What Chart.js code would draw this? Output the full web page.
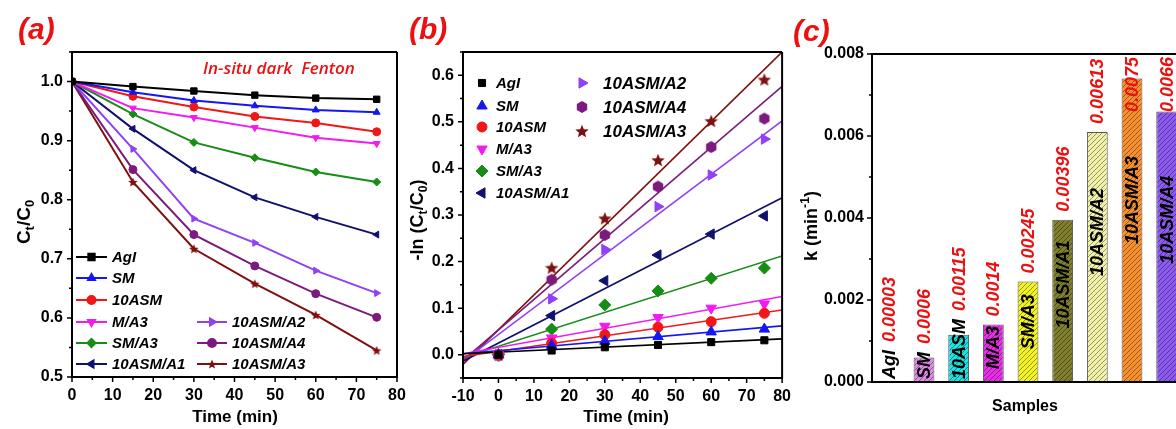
<!DOCTYPE html>
<html>
<head>
<meta charset="utf-8">
<script src="https://cdn.jsdelivr.net/npm/chart.js@4.4.0/dist/chart.umd.min.js"></script>
<style>
  html, body { margin: 0; padding: 0; background: #fff; width: 1176px; height: 429px; overflow: hidden; position: relative; }
  canvas { position: absolute; top: 0; }
  #chartA { left: 0; }
  #chartB { left: 400px; }
  #chartC { left: 790px; }
</style>
</head>
<body>
<canvas id="chartA" width="420" height="429"></canvas>
<canvas id="chartB" width="400" height="429"></canvas>
<canvas id="chartC" width="400" height="429"></canvas>
<script>
// ---- data ----
var times = [0, 15, 30, 45, 60, 75];
var seriesNames = ['AgI', 'SM', '10ASM', 'M/A3', 'SM/A3', '10ASM/A1', '10ASM/A2', '10ASM/A4', '10ASM/A3'];

// (a) Ct/C0 vs time
var ratioAgI   = [1.0, 0.9915, 0.984, 0.977, 0.972, 0.970];
var ratioSM    = [1.0, 0.982, 0.968, 0.959, 0.952, 0.948];
var ratio10ASM = [1.0, 0.975, 0.957, 0.941, 0.930, 0.915];
var ratioMA3   = [1.0, 0.955, 0.939, 0.922, 0.905, 0.895];
var ratioSMA3  = [1.0, 0.945, 0.897, 0.871, 0.847, 0.830];
var ratioA1    = [1.0, 0.920, 0.850, 0.804, 0.771, 0.741];
var ratioA2    = [1.0, 0.886, 0.768, 0.727, 0.680, 0.642];
var ratioA4    = [1.0, 0.851, 0.741, 0.688, 0.641, 0.601];
var ratioA3    = [1.0, 0.830, 0.717, 0.658, 0.605, 0.545];

// (b) -ln(Ct/C0) vs time
var lnAgI   = [0, 0.009, 0.016, 0.021, 0.027, 0.031];
var lnSM    = [0, 0.020, 0.029, 0.039, 0.049, 0.055];
var ln10ASM = [0, 0.025, 0.043, 0.059, 0.071, 0.089];
var lnMA3   = [0, 0.036, 0.061, 0.080, 0.100, 0.109];
var lnSMA3  = [0, 0.055, 0.107, 0.137, 0.164, 0.186];
var lnA1    = [0, 0.084, 0.159, 0.214, 0.259, 0.298];
var lnA2    = [0, 0.120, 0.226, 0.318, 0.386, 0.463];
var lnA4    = [-0.002, 0.161, 0.257, 0.361, 0.446, 0.507];
var lnA3    = [0, 0.187, 0.293, 0.418, 0.502, 0.591];

// (b) fitted lines, value read at each end of the axis
var fitX     = [-10, 80];
var fitAgI   = [0.002, 0.034];
var fitSM    = [0.002, 0.062];
var fit10ASM = [-0.004, 0.096];
var fitMA3   = [0.002, 0.125];
var fitSMA3  = [-0.006, 0.212];
var fitA1    = [-0.014, 0.337];
var fitA2    = [-0.014, 0.502];
var fitA4    = [-0.012, 0.576];
var fitA3    = [-0.021, 0.650];

// (c) rate constants
var barLabels = ['AgI', 'SM', '10ASM', 'M/A3', 'SM/A3', '10ASM/A1', '10ASM/A2', '10ASM/A3', '10ASM/A4'];
var kValues   = [0.00003, 0.0006, 0.00115, 0.0014, 0.00245, 0.00396, 0.0061, 0.0074, 0.0066];
var kText     = ['0.00003', '0.0006', '0.00115', '0.0014', '0.00245', '0.00396', '0.00613', '0.0075', '0.0066'];

var ratioSeries = [ratioAgI, ratioSM, ratio10ASM, ratioMA3, ratioSMA3, ratioA1, ratioA2, ratioA4, ratioA3];
var lnSeries = [lnAgI, lnSM, ln10ASM, lnMA3, lnSMA3, lnA1, lnA2, lnA4, lnA3];
var fitSeries = [fitAgI, fitSM, fit10ASM, fitMA3, fitSMA3, fitA1, fitA2, fitA4, fitA3];

// ---- styles ----
var FONT = '"Liberation Sans", Arial, sans-serif';
var RED = '#ec1111';
var seriesColors = ['#000000', '#1616f2', '#f21616', '#f21af2', '#178c17', '#10106e', '#9040f5', '#7d1a7d', '#7d1010'];
var rotations = [0, 0, 0, 180, 0, -90, 90, 0, 0];
var barColors = ['#33cc33', '#e08ae8', '#1ee0e0', '#e62ee6', '#f2f224', '#7f7f2e', '#f0f0a6', '#f89030', '#8c5af0'];

function makeStar(r, color) {
  var c = document.createElement('canvas');
  var s = Math.ceil(r * 2 + 2);
  c.width = s; c.height = s;
  var g = c.getContext('2d');
  g.fillStyle = color;
  g.beginPath();
  for (var i = 0; i < 10; i++) {
    var rr = i % 2 === 0 ? r : r * 0.45;
    var a = -Math.PI / 2 + i * Math.PI / 5;
    var px = s / 2 + rr * Math.cos(a), py = s / 2 + rr * Math.sin(a) + r * 0.1;
    if (i === 0) g.moveTo(px, py); else g.lineTo(px, py);
  }
  g.closePath();
  g.fill();
  return c;
}

function makeHex(r, color) {
  var c = document.createElement('canvas');
  var s = Math.ceil(r * 2 + 2);
  c.width = s; c.height = s;
  var g = c.getContext('2d');
  g.fillStyle = color;
  g.beginPath();
  for (var i = 0; i < 6; i++) {
    var a = -Math.PI / 2 + i * Math.PI / 3;
    var px = s / 2 + r * Math.cos(a), py = s / 2 + r * Math.sin(a);
    if (i === 0) g.moveTo(px, py); else g.lineTo(px, py);
  }
  g.closePath();
  g.fill();
  return c;
}

function hatch(color) {
  var c = document.createElement('canvas');
  c.width = 5; c.height = 5;
  var g = c.getContext('2d');
  g.fillStyle = color;
  g.fillRect(0, 0, 5, 5);
  g.strokeStyle = 'rgba(0,0,0,0.38)';
  g.lineWidth = 1;
  g.beginPath();
  g.moveTo(0, 5); g.lineTo(5, 0);
  g.moveTo(-1, 1); g.lineTo(1, -1);
  g.moveTo(4, 6); g.lineTo(6, 4);
  g.stroke();
  return g.createPattern(c, 'repeat');
}

var stylesA = ['rect', 'triangle', 'circle', 'triangle', 'rectRot', 'triangle', 'triangle', 'circle', makeStar(5, seriesColors[8])];
var stylesB = ['rect', 'triangle', 'circle', 'triangle', 'rectRot', 'triangle', 'triangle', makeHex(6, seriesColors[7]), makeStar(7, seriesColors[8])];

// ---- drawing helpers ----
function drawRich(ctx, parts, cx, cy, angle, size) {
  ctx.save();
  ctx.translate(cx, cy);
  ctx.rotate(angle);
  ctx.fillStyle = '#000';
  ctx.textBaseline = 'middle';
  var total = 0;
  parts.forEach(function (p) {
    ctx.font = 'bold ' + (p.sub || p.sup ? size * 0.68 : size) + 'px ' + FONT;
    p.w = ctx.measureText(p.t).width;
    total += p.w;
  });
  var x = -total / 2;
  parts.forEach(function (p) {
    ctx.font = 'bold ' + (p.sub || p.sup ? size * 0.68 : size) + 'px ' + FONT;
    var dy = p.sub ? size * 0.3 : (p.sup ? -size * 0.35 : 0);
    ctx.fillText(p.t, x, dy);
    x += p.w;
  });
  ctx.restore();
}

function drawText(ctx, text, x, y, font, color, align) {
  ctx.save();
  ctx.font = font;
  ctx.fillStyle = color;
  ctx.textAlign = align || 'left';
  ctx.textBaseline = 'alphabetic';
  ctx.fillText(text, x, y);
  ctx.restore();
}

// axis box plus outward major / minor ticks
function framePlugin(sides) {
  return {
    id: 'frame',
    afterDraw: function (chart) {
      var ctx = chart.ctx, a = chart.chartArea;
      ctx.save();
      ctx.strokeStyle = '#000';
      ctx.lineWidth = 2;
      ctx.beginPath();
      if (sides.top) { ctx.moveTo(a.left, a.top); ctx.lineTo(sides.topTo || a.right, a.top); }
      if (sides.right) { ctx.moveTo(a.right, a.top); ctx.lineTo(a.right, a.bottom); }
      ctx.moveTo(a.left, a.top - 1); ctx.lineTo(a.left, a.bottom + 1);
      ctx.moveTo(a.left - 1, a.bottom); ctx.lineTo(sides.bottomTo || a.right + 1, a.bottom);
      ctx.stroke();
      ctx.lineWidth = 1.5;
      ctx.beginPath();
      var ys = chart.scales.y;
      ys.ticks.forEach(function (t) {
        var p = ys.getPixelForValue(t.value);
        var len = t.label === '' ? 3 : 5;
        ctx.moveTo(a.left, p); ctx.lineTo(a.left - len, p);
      });
      if (sides.xTicks) {
        var xs = chart.scales.x;
        xs.ticks.forEach(function (t) {
          var p = xs.getPixelForValue(t.value);
          var len = t.label === '' ? 3 : 5;
          ctx.moveTo(p, a.bottom); ctx.lineTo(p, a.bottom + len);
        });
      }
      ctx.stroke();
      ctx.restore();
    }
  };
}

function tickFont() {
  return { family: FONT, size: 16, weight: 'bold' };
}

function xLabel(v) {
  var n = Math.round(v);
  return n % 10 === 0 ? String(n) : '';
}

function oneDecimal(v) {
  var n = Math.round(v * 100);
  return n % 10 === 0 ? (n / 100).toFixed(1) : '';
}

// ---- (a) ----
var legendA = {
  id: 'legendA',
  afterDraw: function (chart) {
    var ctx = chart.ctx;
    var rows = [257, 278, 300, 322, 343, 364];
    chart.data.datasets.forEach(function (ds, i) {
      var col2 = i >= 6;
      var y = col2 ? rows[i - 3] : rows[i];
      var x1 = col2 ? 197 : 76, x2 = col2 ? 227 : 107;
      ctx.save();
      ctx.strokeStyle = ds.borderColor;
      ctx.fillStyle = ds.borderColor;
      ctx.lineWidth = 2;
      ctx.beginPath(); ctx.moveTo(x1, y); ctx.lineTo(x2, y); ctx.stroke();
      Chart.helpers.drawPoint(ctx, { pointStyle: ds.pointStyle, rotation: ds.pointRotation, radius: ds.pointRadius, borderWidth: 1 }, (x1 + x2) / 2, y);
      ctx.font = 'italic bold 15px ' + FONT;
      ctx.fillStyle = '#000';
      ctx.textBaseline = 'middle';
      ctx.fillText(ds.label, x2 + 5, y + 1);
      ctx.restore();
    });
    drawText(ctx, '(a)', 18, 39, 'italic bold 30px ' + FONT, RED);
    drawText(ctx, 'In-situ dark  Fenton', 203, 74, 'italic 600 17px "Open Sans", sans-serif', RED);
    drawRich(ctx, [{ t: 'Time (min)' }], 235, 417, 0, 17);
    drawRich(ctx, [{ t: 'C' }, { t: 't', sub: true }, { t: '/C' }, { t: '0', sub: true }], 25, 222, -Math.PI / 2, 19);
  }
};

new Chart(document.getElementById('chartA'), {
  type: 'line',
  data: {
    datasets: ratioSeries.map(function (arr, i) {
      return {
        label: seriesNames[i],
        data: times.map(function (t, j) { return { x: t, y: arr[j] }; }),
        borderColor: seriesColors[i],
        backgroundColor: seriesColors[i],
        pointBackgroundColor: seriesColors[i],
        pointBorderColor: seriesColors[i],
        borderWidth: 2,
        pointStyle: stylesA[i],
        pointRotation: rotations[i],
        pointRadius: i === 0 ? 4.5 : 4,
        pointBorderWidth: 1,
        tension: 0
      };
    })
  },
  options: {
    responsive: false,
    animation: false,
    layout: { padding: { top: 52, right: 23, left: 0, bottom: 0 } },
    plugins: { legend: { display: false }, tooltip: { enabled: false } },
    scales: {
      x: {
        type: 'linear', min: 0, max: 80,
        ticks: { stepSize: 5, autoSkip: false, maxRotation: 0, padding: 9, color: '#000', font: tickFont(), callback: xLabel },
        grid: { display: false, drawTicks: false },
        border: { display: false },
        afterFit: function (s) { s.height = 52; }
      },
      y: {
        type: 'linear', min: 0.5, max: 1.05,
        ticks: { stepSize: 0.05, autoSkip: false, padding: 9, color: '#000', font: tickFont(), callback: oneDecimal },
        grid: { display: false, drawTicks: false },
        border: { display: false },
        afterFit: function (s) { s.width = 72; }
      }
    }
  },
  plugins: [framePlugin({ top: true, right: true, xTicks: true }), legendA]
});

// ---- (b) ----
var legendB = {
  id: 'legendB',
  afterDraw: function (chart) {
    var ctx = chart.ctx;
    var rows1 = [83, 106, 127, 149, 171, 193];
    var rows2 = [83, 107, 131];
    chart.data.datasets.forEach(function (ds) {
      if (ds.fit) return;
      var i = ds.idx;
      var col2 = i >= 6;
      var y = col2 ? rows2[i - 6] : rows1[i];
      var mx = col2 ? 182 : 82;
      ctx.save();
      ctx.fillStyle = ds.pointBackgroundColor;
      ctx.strokeStyle = ds.pointBackgroundColor;
      Chart.helpers.drawPoint(ctx, { pointStyle: ds.pointStyle, rotation: ds.pointRotation, radius: ds.pointRadius, borderWidth: 1 }, mx, y);
      ctx.font = 'italic bold ' + (col2 ? 17 : 15) + 'px ' + FONT;
      ctx.fillStyle = '#000';
      ctx.textBaseline = 'middle';
      ctx.fillText(ds.label, col2 ? 203 : 96, y + 1);
      ctx.restore();
    });
    drawText(ctx, '(b)', 9, 39, 'italic bold 30px ' + FONT, RED);
    drawRich(ctx, [{ t: 'Time (min)' }], 226, 417, 0, 17);
    drawRich(ctx, [{ t: '-ln (C' }, { t: 't', sub: true }, { t: '/C' }, { t: '0', sub: true }, { t: ')' }], 18, 220, -Math.PI / 2, 18);
  }
};

var datasetsB = [];
fitSeries.forEach(function (f, i) {
  datasetsB.push({
    label: seriesNames[i] + ' fit',
    fit: true,
    data: fitX.map(function (x, j) { return { x: x, y: f[j] }; }),
    showLine: true,
    borderColor: seriesColors[i],
    borderWidth: 1.6,
    pointRadius: 0,
    order: 2
  });
});
lnSeries.forEach(function (arr, i) {
  datasetsB.push({
    label: seriesNames[i],
    idx: i,
    data: times.map(function (t, j) { return { x: t, y: arr[j] }; }),
    showLine: false,
    backgroundColor: seriesColors[i],
    pointBackgroundColor: seriesColors[i],
    pointBorderColor: seriesColors[i],
    pointStyle: stylesB[i],
    pointRotation: rotations[i],
    pointRadius: i === 0 ? 5 : (i === 2 ? 5 : 6),
    pointBorderWidth: 1,
    order: 1
  });
});

new Chart(document.getElementById('chartB'), {
  type: 'scatter',
  data: { datasets: datasetsB },
  options: {
    responsive: false,
    animation: false,
    layout: { padding: { top: 52, right: 12, left: 0, bottom: 0 } },
    plugins: { legend: { display: false }, tooltip: { enabled: false } },
    scales: {
      x: {
        type: 'linear', min: -10, max: 80,
        ticks: { stepSize: 5, autoSkip: false, maxRotation: 0, padding: 9, color: '#000', font: tickFont(), callback: xLabel },
        grid: { display: false, drawTicks: false },
        border: { display: false },
        afterFit: function (s) { s.height = 51; }
      },
      y: {
        type: 'linear', min: -0.05, max: 0.65,
        ticks: { stepSize: 0.05, autoSkip: false, padding: 9, color: '#000', font: tickFont(), callback: oneDecimal },
        grid: { display: false, drawTicks: false },
        border: { display: false },
        afterFit: function (s) { s.width = 63; }
      }
    }
  },
  plugins: [framePlugin({ top: true, right: true, xTicks: true }), legendB]
});

// ---- (c) ----
var barText = {
  id: 'barText',
  afterDraw: function (chart) {
    var ctx = chart.ctx, a = chart.chartArea;
    var meta = chart.getDatasetMeta(0);
    meta.data.forEach(function (bar, i) {
      var top = bar.y, bottom = bar.base;
      ctx.save();
      ctx.font = 'italic bold 18px ' + FONT;
      var nameLen = ctx.measureText(barLabels[i]).width;
      var center = top + (bottom - top) * 0.4;
      var start = Math.min(bottom - 3, center + nameLen / 2);
      ctx.translate(bar.x, start);
      ctx.rotate(-Math.PI / 2);
      ctx.textBaseline = 'middle';
      ctx.fillStyle = '#000';
      ctx.fillText(barLabels[i], 0, 1);
      ctx.restore();

      ctx.save();
      ctx.font = 'italic bold 18px ' + FONT;
      var valLen = ctx.measureText(kText[i]).width;
      var vStart = Math.min(top, start - nameLen) - 8;
      vStart = Math.max(vStart, a.top + valLen + 3);
      ctx.translate(bar.x, vStart);
      ctx.rotate(-Math.PI / 2);
      ctx.textBaseline = 'middle';
      ctx.fillStyle = RED;
      ctx.fillText(kText[i], 0, 1);
      ctx.restore();
    });
    drawText(ctx, '(c)', 3, 41, 'italic bold 30px ' + FONT, RED);
    drawRich(ctx, [{ t: 'Samples' }], 235, 407, 0, 16);
    drawRich(ctx, [{ t: 'k (min' }, { t: '-1', sup: true }, { t: ')' }], 22, 226, -Math.PI / 2, 18);
  }
};

new Chart(document.getElementById('chartC'), {
  type: 'bar',
  data: {
    labels: barLabels,
    datasets: [{
      data: kValues,
      backgroundColor: barColors.map(hatch),
      borderColor: '#555',
      borderWidth: 1,
      borderSkipped: 'bottom',
      barPercentage: 0.6,
      categoryPercentage: 1
    }]
  },
  options: {
    responsive: false,
    animation: false,
    layout: { padding: { top: 54, right: 6, left: 0, bottom: 0 } },
    plugins: { legend: { display: false }, tooltip: { enabled: false } },
    scales: {
      x: {
        ticks: { display: false },
        grid: { display: false, drawTicks: false },
        border: { display: false },
        afterFit: function (s) { s.height = 47; }
      },
      y: {
        min: 0, max: 0.008,
        ticks: {
          stepSize: 0.001, autoSkip: false, padding: 8, color: '#000', font: tickFont(),
          callback: function (v) { var n = Math.round(v * 1000); return n % 2 === 0 ? (n / 1000).toFixed(3) : ''; }
        },
        grid: { display: false, drawTicks: false },
        border: { display: false },
        afterFit: function (s) { s.width = 82; }
      }
    }
  },
  plugins: [framePlugin({ top: true, right: false, xTicks: false, topTo: 400, bottomTo: 400 }), barText]
});
</script>
</body>
</html>
